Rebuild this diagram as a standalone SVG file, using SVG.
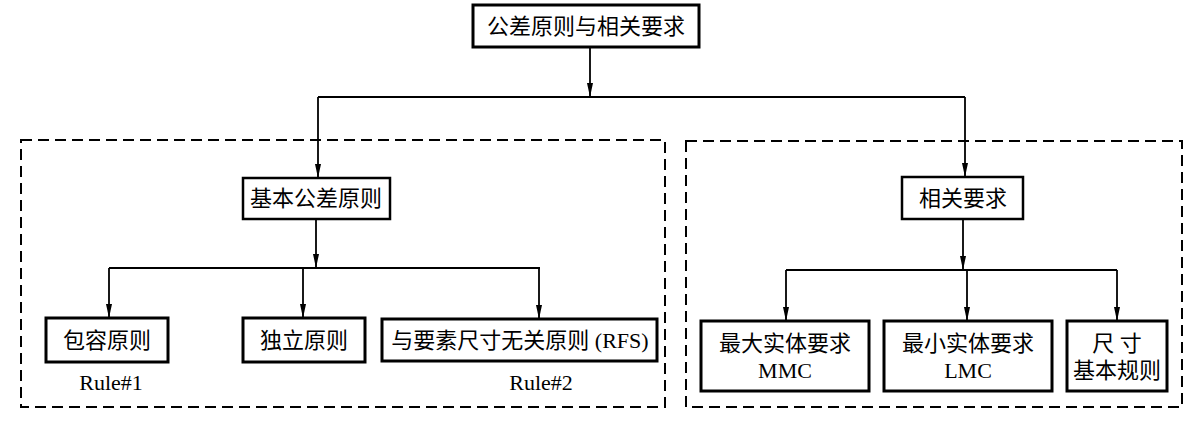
<svg xmlns="http://www.w3.org/2000/svg" width="1200" height="422" viewBox="0 0 1200 422">
<defs>
<marker id="a" markerWidth="14" markerHeight="8" refX="13" refY="4" orient="auto" markerUnits="userSpaceOnUse">
<path d="M0,1 L14,4 L0,7 Z" fill="#000"/>
</marker>
<style>
.box{fill:#fff;stroke:#000;stroke-width:3}
.dash{fill:none;stroke:#000;stroke-width:2;stroke-dasharray:11,6}
.ln{fill:none;stroke:#000;stroke-width:1.8}
.arr{fill:none;stroke:#000;stroke-width:1.8;marker-end:url(#a)}
.cjk{font-family:"Liberation Serif","Noto Sans CJK SC",serif;font-size:22px;fill:#000;text-anchor:middle}
.lat{font-family:"Liberation Serif",serif;font-size:22px;fill:#000;text-anchor:middle}
</style>
</defs>
<rect class="dash" x="21" y="140" width="644" height="267"/>
<rect class="dash" x="686" y="141" width="496" height="266"/>
<g id="connectors">
<line class="arr" x1="590" y1="47" x2="590" y2="96"/>
<polyline class="ln" points="318,97 965,97"/>
<line class="arr" x1="318" y1="97" x2="318" y2="177"/>
<line class="arr" x1="965" y1="97" x2="965" y2="176"/>
<line class="arr" x1="316" y1="220" x2="316" y2="267"/>
<polyline class="ln" points="109,268 540,268"/>
<line class="arr" x1="109" y1="268" x2="109" y2="317"/>
<line class="arr" x1="303" y1="268" x2="303" y2="317"/>
<line class="arr" x1="539" y1="268" x2="539" y2="318"/>
<line class="arr" x1="963" y1="220" x2="963" y2="269"/>
<polyline class="ln" points="786,270 1117,270"/>
<line class="arr" x1="786" y1="270" x2="786" y2="320"/>
<line class="arr" x1="967" y1="270" x2="967" y2="320"/>
<line class="arr" x1="1117" y1="270" x2="1117" y2="320"/>
</g>
<g id="root"><rect class="box" x="473" y="5" width="226" height="42"/><text class="cjk" x="586" y="34">公差原则与相关要求</text></g>
<g id="basic"><rect class="box" x="243" y="178" width="147" height="41" style="stroke-width:2.5"/><text class="cjk" x="316" y="206">基本公差原则</text></g>
<g id="envelope"><rect class="box" x="46" y="318" width="122" height="44"/><text class="cjk" x="107" y="348">包容原则</text></g>
<g id="independent"><rect class="box" x="243" y="318" width="122" height="44"/><text class="cjk" x="304" y="348">独立原则</text></g>
<g id="rfs"><rect class="box" x="382" y="319" width="275" height="42"/><text class="cjk" x="520" y="348">与要素尺寸无关原则 (RFS)</text></g>
<text class="lat" x="111" y="390">Rule#1</text>
<text class="lat" x="541" y="390">Rule#2</text>
<g id="related"><rect class="box" x="902" y="177" width="121" height="42" style="stroke-width:2.5"/><text class="cjk" x="963" y="206">相关要求</text></g>
<g id="mmc"><rect class="box" x="701" y="321" width="168" height="70"/><text class="cjk" x="785" y="351">最大实体要求</text><text class="lat" x="785" y="378">MMC</text></g>
<g id="lmc"><rect class="box" x="884" y="321" width="168" height="70"/><text class="cjk" x="968" y="351">最小实体要求</text><text class="lat" x="968" y="378">LMC</text></g>
<g id="size"><rect class="box" x="1067" y="321" width="100" height="70"/><text class="cjk" x="1117" y="351">尺 寸</text><text class="cjk" x="1117" y="378">基本规则</text></g>
</svg>
